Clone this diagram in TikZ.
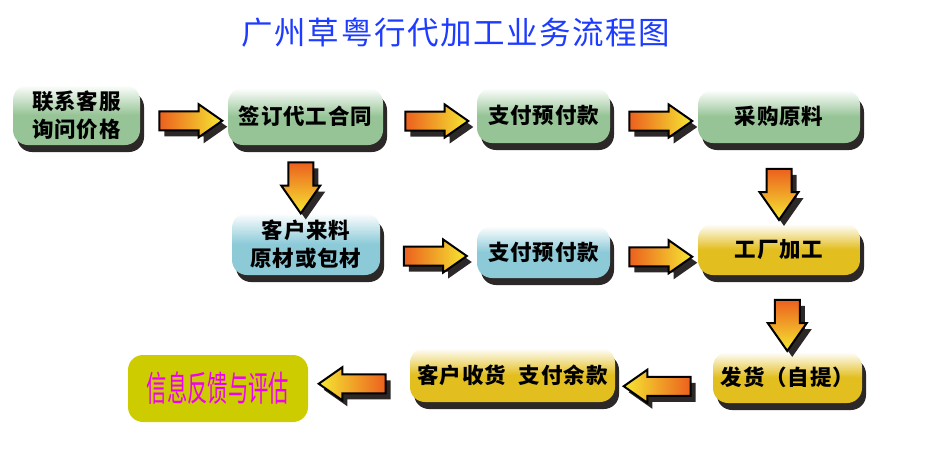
\documentclass[tikz,border=0pt]{standalone}
\usepackage{fontspec}
\setmainfont{Noto Sans CJK SC}
\usetikzlibrary{shapes.arrows,shadows}

\definecolor{titleblue}{RGB}{30,60,255}
\definecolor{boxgreen}{RGB}{150,196,150}
\definecolor{boxblue}{RGB}{140,202,216}
\definecolor{boxgold}{RGB}{226,190,30}
\definecolor{endolive}{RGB}{204,204,0}
\definecolor{endpink}{RGB}{240,0,240}
\definecolor{arrorange}{RGB}{236,96,30}
\definecolor{arryellow}{RGB}{245,232,50}
\definecolor{shade}{RGB}{45,40,40}

\begin{document}
\begin{tikzpicture}[x=1pt, y=-1pt,
    stage/.style={rounded corners=15pt, align=center, inner sep=0pt,
      font=\fontsize{21.5}{28}\selectfont\bfseries\addfontfeature{LetterSpace=4},
      drop shadow={shadow xshift=4pt, shadow yshift=-7pt, fill=shade, opacity=1}},
    greenbox/.style={stage, top color=white, bottom color=boxgreen, middle color=boxgreen},
    bluebox/.style={stage, top color=white, bottom color=boxblue, middle color=boxblue},
    goldbox/.style={stage, top color=white, bottom color=boxgold, middle color=boxgold},
    fatarr/.style={single arrow, draw=black, line width=2pt, inner sep=8.5pt,
      single arrow head extend=7pt, single arrow tip angle=70,
      drop shadow={shadow xshift=5pt, shadow yshift=-6pt, fill=shade, opacity=1}},
    rarr/.style={fatarr, minimum height=63pt, left color=arrorange, right color=arryellow},
    larr/.style={fatarr, shape border rotate=180, minimum height=67pt, left color=arryellow, right color=arrorange},
    darr/.style={fatarr, shape border rotate=270, minimum height=51pt, inner sep=11.5pt, top color=arrorange, bottom color=arryellow}
]
\useasboundingbox (0,0) rectangle (952,450);

\node[text=titleblue, font=\fontsize{31.5}{32}\selectfont\addfontfeature{LetterSpace=5}] (title) at (456,33) {广州草粤行代加工业务流程图};

% top row
\node[greenbox, minimum width=127pt, minimum height=60pt] (ask) at (76.5,115) {联系客服\\询问价格};
\node[greenbox, minimum width=155pt, minimum height=57pt] (sign) at (305.5,116.5) {签订代工合同};
\node[greenbox, minimum width=133pt, minimum height=55pt] (pay1) at (543.5,115.5) {支付预付款};
\node[greenbox, minimum width=162pt, minimum height=53pt] (buy) at (779,116.5) {采购原料};

% middle row
\node[bluebox, minimum width=148pt, minimum height=62pt] (supply) at (306,244) {客户来料\\原材或包材};
\node[bluebox, minimum width=133pt, minimum height=52pt] (pay2) at (543.5,252) {支付预付款};
\node[goldbox, minimum width=162pt, minimum height=51pt] (factory) at (779,249.5) {工厂加工};

% bottom row
\node[goldbox, minimum width=149pt, minimum height=51pt] (ship) at (787.5,377.5) {发货（自提）};
\node[goldbox, minimum width=205pt, minimum height=54pt] (receive) at (512.5,375) {客户收货\hspace{0.6em}支付余款};
\node[fill=endolive, rounded corners=15pt, minimum width=180pt, minimum height=67pt,
  text=endpink, font=\fontsize{35}{35}\selectfont] (feedback) at (218,388.5) {\scalebox{0.58}[1]{信息反馈与评估}};

% arrows
\path (ask.east) -- node[rarr, yshift=-5pt]{} (sign.west);
\path (sign.east) -- node[rarr, yshift=-5pt]{} (pay1.west);
\path (pay1.east) -- node[rarr, yshift=-5pt]{} (buy.west);
\path (sign.south) -- node[darr, xshift=-5pt]{} (supply.north);
\path (buy.south) -- node[darr, yshift=-2pt]{} (factory.north);
\path (supply.east) -- node[rarr, yshift=-8pt]{} (pay2.west);
\path (pay2.east) -- node[rarr, yshift=-6pt]{} (factory.west);
\path (factory.south) -- node[darr, xshift=4pt, yshift=-3pt]{} (ship.north);
\path (ship.west) -- node[larr, yshift=-10pt]{} (receive.east);
\path (receive.west) -- node[larr, yshift=-2pt]{} (feedback.east);
\end{tikzpicture}
\end{document}
